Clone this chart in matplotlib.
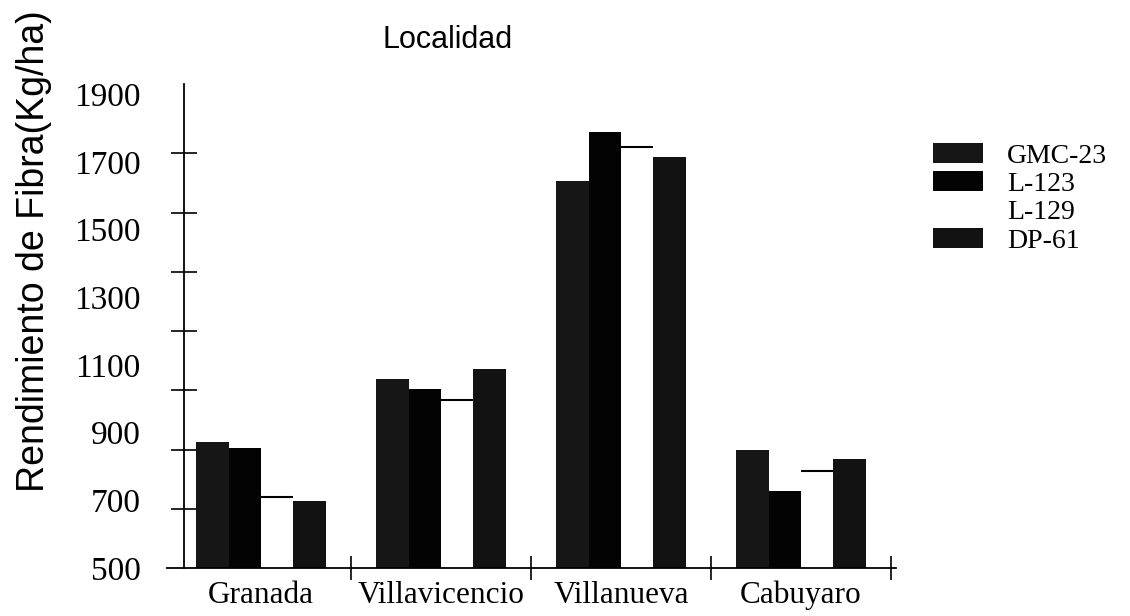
import numpy as np
import matplotlib
matplotlib.use('Agg')
from matplotlib import pyplot as plt

# Data
localidades = ['Granada', 'Villavicencio', 'Villanueva', 'Cabuyaro']
variedades = ['GMC-23', 'L-123', 'L-129', 'DP-61']
gmc_23 = [872, 1058, 1643, 849]
l_123 = [854, 1029, 1788, 727]
l_129 = [709, 996, 1744, 787]
dp_61 = [698, 1088, 1714, 822]
y_labels = [500, 700, 900, 1100, 1300, 1500, 1700, 1900]

series = [gmc_23, l_123, l_129, dp_61]
colors = ['#161616', '#030303', '#ffffff', '#121212']

serif = ['Liberation Serif', 'DejaVu Serif']
sans = ['Liberation Sans', 'DejaVu Sans']

fig = plt.figure(figsize=(11.3, 6.16), dpi=100)
ax = fig.add_axes([0.1481, 0.0779, 0.6451, 0.7857])

x = np.arange(len(localidades))
w = 0.18
bars = []
for i, (vals, c) in enumerate(zip(series, colors)):
    xpos = x + (i - 1.5) * w
    heights = np.array(vals) - 500
    b = ax.bar(xpos, heights, width=w, bottom=500, color=c, edgecolor='none',
               label=variedades[i], zorder=2)
    bars.append(b)
    if c == '#ffffff':
        # white bars only show their top edge
        ax.hlines(vals, xpos - w / 2, xpos + w / 2, color='black', lw=1.5, zorder=3)

ax.set_xlim(-0.52, 3.53)
ax.set_ylim(500, 1930)

for s in ['top', 'right']:
    ax.spines[s].set_visible(False)
ax.spines['left'].set_position(('data', -0.428))
ax.spines['left'].set_bounds(500, 1930)
ax.spines['left'].set_linewidth(1.3)
ax.spines['bottom'].set_linewidth(1.3)

# labels every 200, tick marks every 175 (as in the original scan)
ax.set_yticks(y_labels)
ax.set_yticklabels([str(v) for v in y_labels], fontfamily=serif, fontsize=24)
ax.set_yticks(np.arange(500, 1901, 175), minor=True)
ax.tick_params(axis='y', which='major', length=0, pad=31)
ax.tick_params(axis='y', which='minor', direction='inout', length=19, width=1.2)

ax.set_xticks(x)
ax.set_xticklabels(localidades, fontfamily=serif, fontsize=22.5)
ax.set_xticks([0.5, 1.5, 2.5, 3.5], minor=True)
ax.tick_params(axis='x', which='major', length=0, pad=9)
ax.tick_params(axis='x', which='minor', direction='inout', length=17, width=1.2)

ax.set_ylabel('Rendimiento de Fibra(Kg/ha)', fontfamily=sans, fontsize=27)
ax.yaxis.set_label_coords(-0.158, 0.655)

fig.text(448 / 1130, 1 - 40 / 616, 'Localidad', fontfamily=sans, fontsize=22,
         ha='center', va='center')

leg = ax.legend(handles=bars, loc='upper left', bbox_to_anchor=(933 / 1130, 1 - 143 / 616),
                bbox_transform=fig.transFigure, frameon=False, prop={'family': serif, 'size': 20},
                handlelength=1.8, handleheight=0.72, handletextpad=0.86, labelspacing=0.1,
                borderpad=0, borderaxespad=0)

plt.savefig('out.png', dpi=100)
